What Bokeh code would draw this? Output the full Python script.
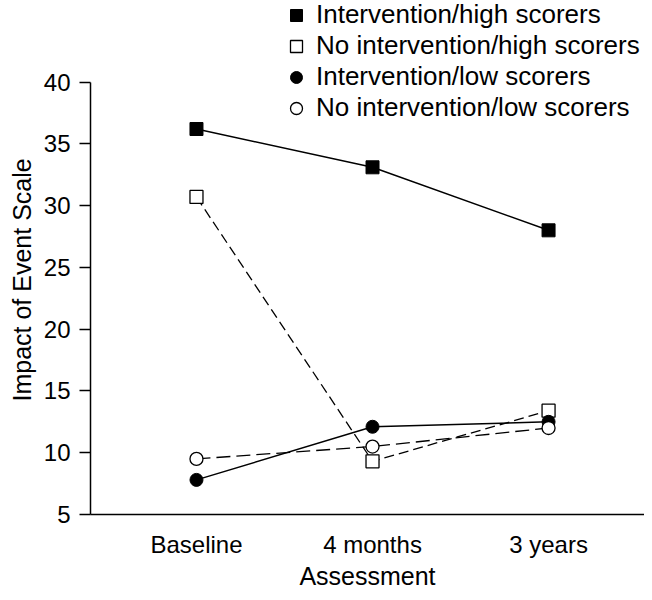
from bokeh.plotting import figure
from bokeh.models import Legend, LegendItem, FixedTicker, Range1d, Title
from bokeh.embed import file_html
from bokeh.resources import INLINE

categories = ["Baseline", "4 months", "3 years"]
int_high = [36.2, 33.1, 28.0]
noint_high = [30.7, 9.3, 13.4]
int_low = [7.8, 12.1, 12.5]
noint_low = [9.5, 10.5, 12.0]
y_ticks = [5, 10, 15, 20, 25, 30, 35, 40]
series_labels = ["Intervention/high scorers", "No intervention/high scorers",
                 "Intervention/low scorers", "No intervention/low scorers"]
y_title = "Impact of Event Scale"
x_title = "Assessment"

xs = list(range(len(categories)))
FONT = "Liberation Sans"

p = figure(width=644, height=592, output_backend="svg", toolbar_location=None,
           x_range=Range1d(-0.602, 2.545), y_range=Range1d(5, 46.6),
           min_border_left=90, min_border_right=0, min_border_top=0, min_border_bottom=77)
p.outline_line_color = None
p.grid.visible = False
p.background_fill_color = "white"

# lines
p.line(xs, int_high, line_color="black", line_width=1.5)
p.line(xs, noint_high, line_color="black", line_width=1.3, line_dash="10 5")
p.line(xs, int_low, line_color="black", line_width=1.5)
p.line(xs, noint_low, line_color="black", line_width=1.3, line_dash="14 6")

# markers
r1 = p.scatter(xs, int_high, marker="square", size=13, fill_color="black", line_color="black")
r2 = p.scatter(xs, noint_high, marker="square", size=13, fill_color="white", line_color="black", line_width=1.3)
r3 = p.scatter(xs, int_low, marker="circle", size=13, fill_color="black", line_color="black")
r4 = p.scatter(xs, noint_low, marker="circle", size=13, fill_color="white", line_color="black", line_width=1.3)

# axes
xa = p.xaxis[0]
xa.ticker = FixedTicker(ticks=xs)
xa.major_label_overrides = {i: c for i, c in enumerate(categories)}
xa.major_tick_line_color = None
xa.major_tick_out = 0
xa.minor_tick_line_color = None
xa.axis_line_width = 1.5
xa.axis_line_color = "black"
xa.major_label_text_font = FONT
xa.major_label_text_font_size = "24px"
xa.major_label_text_color = "black"
xa.major_label_standoff = 16
xa.axis_label = x_title
xa.axis_label_text_font = FONT
xa.axis_label_text_font_size = "25px"
xa.axis_label_text_font_style = "normal"
xa.axis_label_text_color = "black"
xa.axis_label_standoff = 1

ya = p.yaxis[0]
ya.ticker = FixedTicker(ticks=y_ticks)
ya.bounds = (5, 40)
ya.minor_tick_line_color = None
ya.major_tick_in = 0
ya.major_tick_out = 11
ya.major_tick_line_width = 1.5
ya.axis_line_width = 1.5
ya.axis_line_color = "black"
ya.major_tick_line_color = "black"
ya.major_label_text_font = FONT
ya.major_label_text_font_size = "24px"
ya.major_label_text_color = "black"
ya.major_label_standoff = 9

# y-axis title as a side title so that it can be shifted along the axis
p.add_layout(Title(text=y_title, align="left", offset=113, standoff=10,
                   text_font=FONT, text_font_size="25px", text_font_style="normal",
                   text_color="black"), "left")

legend = Legend(items=[LegendItem(label=series_labels[0], renderers=[r1]),
                       LegendItem(label=series_labels[1], renderers=[r2]),
                       LegendItem(label=series_labels[2], renderers=[r3]),
                       LegendItem(label=series_labels[3], renderers=[r4])],
                location=(190, 391), orientation="vertical",
                glyph_width=32, glyph_height=30, label_height=30, spacing=0,
                label_standoff=4, padding=0, margin=0,
                border_line_color=None, background_fill_alpha=0,
                label_text_font=FONT, label_text_font_size="26px", label_text_color="black")
p.add_layout(legend, "center")

open("out.html", "w").write(file_html(p, INLINE))
